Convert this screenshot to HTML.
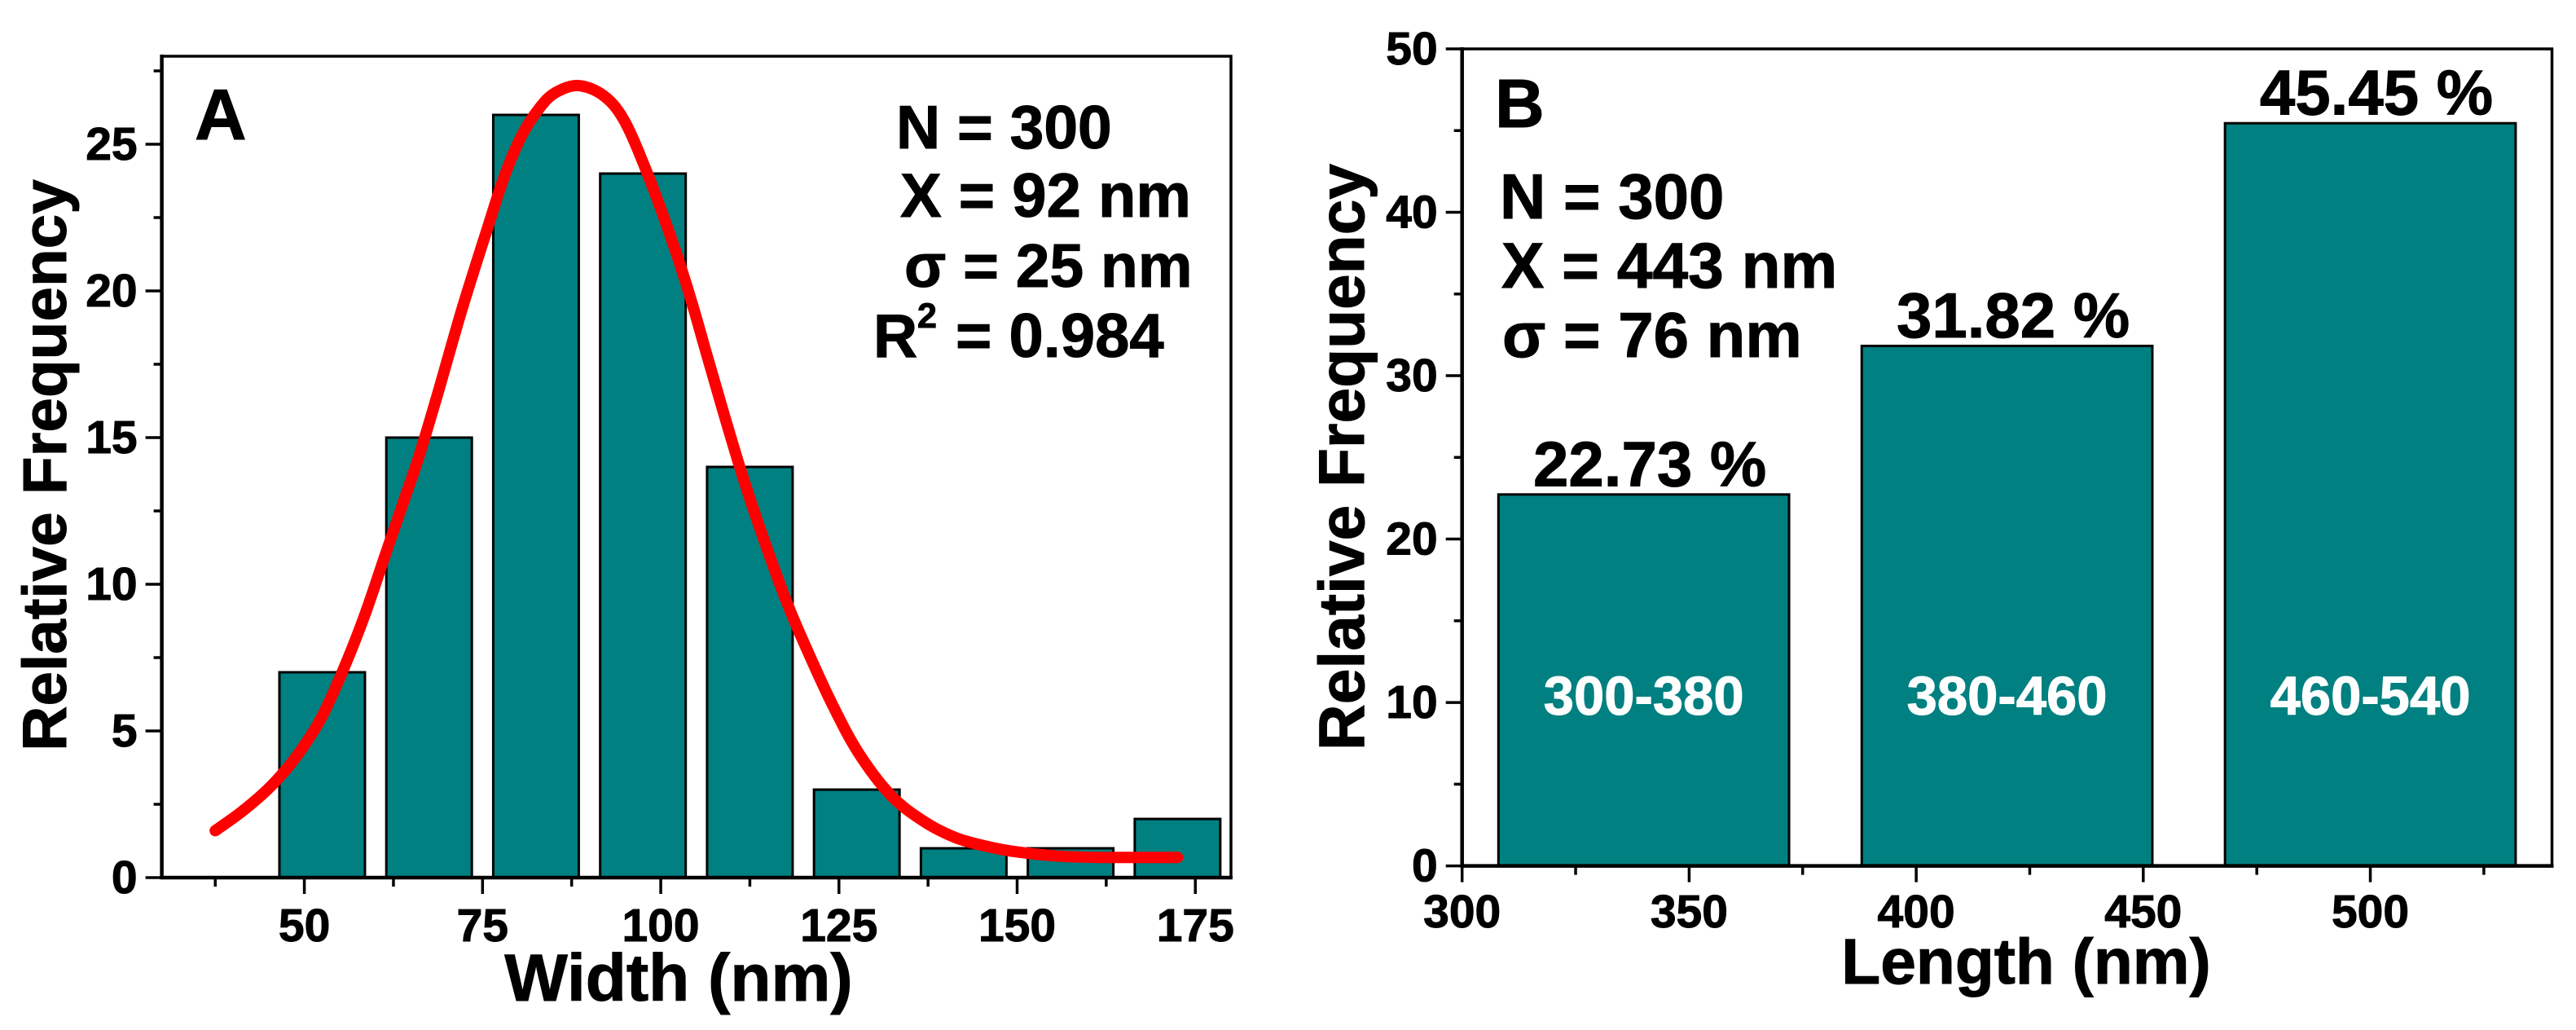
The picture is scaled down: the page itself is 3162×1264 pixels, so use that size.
<!DOCTYPE html>
<html lang="en">
<head>
<meta charset="utf-8">
<title>Relative frequency histograms of width and length</title>
<style>
html,body{margin:0;padding:0;background:#fff;}
body{width:3162px;height:1264px;overflow:hidden;}
svg{display:block;}
text{font-family:"Liberation Sans",Arial,sans-serif;font-weight:bold;fill:#000;stroke:#000;stroke-width:1px;}
</style>
</head>
<body>
<svg id="figure" xmlns="http://www.w3.org/2000/svg" width="3162" height="1264" viewBox="0 0 3162 1264">
  <rect x="0" y="0" width="3162" height="1264" fill="#fff"/>
  <g id="panel-a"></g>
  <g id="panel-b"></g>

  <g>
    <text x="239" y="171" font-size="88">A</text>
    <text x="1100" y="182" font-size="75">N = 300</text>
    <text x="1105" y="266" font-size="76">X = 92 nm</text>
    <text x="1110" y="352" font-size="75">σ = 25 nm</text>
    <text y="438" font-size="75"><tspan x="1072">R</tspan><tspan x="1126" y="402" font-size="43">2</tspan><tspan x="1173" y="438" font-size="76">= 0.984</tspan></text>
    <text font-size="76.5" text-anchor="middle" transform="translate(81 571) rotate(-90)">Relative Frequency</text>
    <text font-size="82" text-anchor="middle" x="833" y="1228">Width (nm)</text>
  </g>

  <g>
    <text x="1835" y="156" font-size="84">B</text>
    <text x="1841" y="268" font-size="78">N = 300</text>
    <text x="1843" y="353" font-size="78.5">X = 443 nm</text>
    <text x="1844" y="438" font-size="78">σ = 76 nm</text>
    <text font-size="78.5" text-anchor="middle" transform="translate(1674 561) rotate(-90)">Relative Frequency</text>
    <text font-size="78.5" text-anchor="middle" x="2487" y="1207">Length (nm)</text>
  </g>
</svg>

<script>
// Panel A data
const widthCenters = [52.5, 67.5, 82.5, 97.5, 112.5, 127.5, 142.5, 157.5, 172.5];
const widthCounts = [7, 15, 26, 24, 14, 3, 1, 1, 2];
const widthBarSpan = 12;
const widthXTicks = [50, 75, 100, 125, 150, 175];
const widthXMinorTicks = [37.5, 62.5, 87.5, 112.5, 137.5, 162.5];
const widthYTicks = [0, 5, 10, 15, 20, 25];
const widthYMinorTicks = [2.5, 7.5, 12.5, 17.5, 22.5, 27.5];
const fitX = [37.5, 40.9, 44.3, 46.6, 49.3, 52.3, 55.4, 58.4, 61.1, 63.7, 66, 68.6, 72.1, 75.7, 78.2, 80.7, 83.2, 85.3, 88.4, 91.9, 94.8, 98, 101.5, 104.1, 106.4, 108.7, 111.4, 114, 117.5, 120.5, 124, 127.7, 132.3, 136.9, 141.5, 146.4, 150.2, 155.9, 161.6, 172.5];
const fitY = [1.6, 2.19, 2.88, 3.45, 4.27, 5.41, 7.05, 8.9, 10.82, 12.67, 14.3, 16.4, 19.36, 22.14, 24, 25.39, 26.3, 26.77, 27, 26.67, 25.84, 24.08, 21.77, 19.82, 17.88, 15.94, 13.75, 11.85, 9.5, 7.78, 5.94, 4.27, 2.8, 1.92, 1.35, 1.03, 0.87, 0.73, 0.69, 0.69];

// Panel B data
const lengthCenters = [340, 420, 500];
const lengthPercents = [22.73, 31.82, 45.45];
const lengthBarSpan = 64;
const lengthPercentLabels = ['22.73 %', '31.82 %', '45.45 %'];
const lengthRangeLabels = ['300-380', '380-460', '460-540'];
const lengthXTicks = [300, 350, 400, 450, 500];
const lengthXMinorTicks = [325, 375, 425, 475, 525];
const lengthYTicks = [0, 10, 20, 30, 40, 50];
const lengthYMinorTicks = [5, 15, 25, 35, 45];

const SVG_NS = 'http://www.w3.org/2000/svg';
const TEAL = '#008080';

function linearScale(d0, d1, r0, r1) {
  return function (v) { return r0 + (v - d0) * (r1 - r0) / (d1 - d0); };
}
function makeShape(tag, parent) {
  const el = document.createElementNS(SVG_NS, tag);
  parent.appendChild(el);
  return el;
}
function setLine(el, x1, y1, x2, y2, w) {
  el.setAttribute('x1', x1);
  el.setAttribute('y1', y1);
  el.setAttribute('x2', x2);
  el.setAttribute('y2', y2);
  el.setAttribute('stroke', '#000');
  el.setAttribute('stroke-width', w);
}
function setLabel(el, x, y, size, anchor, str) {
  el.setAttribute('x', x);
  el.setAttribute('y', y);
  el.setAttribute('font-size', size);
  el.setAttribute('text-anchor', anchor);
  el.textContent = str;
}
function setBar(el, x0, x1, yTop, yBase) {
  el.setAttribute('x', x0);
  el.setAttribute('y', yTop);
  el.setAttribute('width', x1 - x0);
  el.setAttribute('height', yBase - yTop);
  el.setAttribute('fill', TEAL);
  el.setAttribute('stroke', '#000');
  el.setAttribute('stroke-width', 3);
}
function drawFrame(g, L, R, T, B) {
  const frame = makeShape('rect', g);
  
  
  frame.setAttribute('x', L);
  frame.setAttribute('y', T);
  frame.setAttribute('width', R - L);
  frame.setAttribute('height', B - T);
  frame.setAttribute('fill', 'none');
  frame.setAttribute('stroke', '#000');
  frame.setAttribute('stroke-width', 3.5);
}
function drawAxes(g, cfg) {
  const base = makeShape('line', g);
  
  
  setLine(base, cfg.L - 2, cfg.B, cfg.R + 2, cfg.B, 4.5);

  const spine = makeShape('line', g);
  
  
  setLine(spine, cfg.L, cfg.T - 2, cfg.L, cfg.B + 2, 4.5);

  cfg.xTicks.forEach(function (v) {
    const t = makeShape('line', g);
    
    
    setLine(t, cfg.x(v), cfg.B, cfg.x(v), cfg.B + 20, 3.5);
    const lab = makeShape('text', g);
    
    
    setLabel(lab, cfg.x(v), cfg.xLabelY, 57, 'middle', String(v));
  });
  cfg.xMinor.forEach(function (v) {
    const t = makeShape('line', g);
    
    
    setLine(t, cfg.x(v), cfg.B, cfg.x(v), cfg.B + 11, 3.5);
  });
  cfg.yTicks.forEach(function (v) {
    const t = makeShape('line', g);
    
    
    setLine(t, cfg.L - 20, cfg.y(v), cfg.L, cfg.y(v), 3.5);
    const lab = makeShape('text', g);
    
    
    setLabel(lab, cfg.L - 30, cfg.y(v) + 19, 57, 'end', String(v));
  });
  cfg.yMinor.forEach(function (v) {
    const t = makeShape('line', g);
    
    
    setLine(t, cfg.L - 10, cfg.y(v), cfg.L, cfg.y(v), 3.5);
  });
}
function smoothPath(xs, ys) {
  let d = 'M' + xs[0].toFixed(1) + ' ' + ys[0].toFixed(1);
  for (let i = 0; i < xs.length - 1; i++) {
    const a = Math.max(i - 1, 0), b = i + 1, c = Math.min(i + 2, xs.length - 1);
    const c1x = xs[i] + (xs[b] - xs[a]) / 6, c1y = ys[i] + (ys[b] - ys[a]) / 6;
    const c2x = xs[b] - (xs[c] - xs[i]) / 6, c2y = ys[b] - (ys[c] - ys[i]) / 6;
    d += ' C' + c1x.toFixed(1) + ' ' + c1y.toFixed(1) + ' ' + c2x.toFixed(1) + ' ' + c2y.toFixed(1) + ' ' + xs[b].toFixed(1) + ' ' + ys[b].toFixed(1);
  }
  return d;
}

// ---- Panel A ----
(function () {
  const g = document.getElementById('panel-a');
  const L = 198.6, R = 1511, T = 69, B = 1077;
  const x = linearScale(30, 180, L, R);
  const y = linearScale(0, 28, B, T);

  drawFrame(g, L, R, T, B);

  widthCenters.forEach(function (c, i) {
    const bar = makeShape('rect', g);
    
    
    setBar(bar, x(c - widthBarSpan / 2), x(c + widthBarSpan / 2), y(widthCounts[i]), B);
  });

  drawAxes(g, {
    L: L, R: R, T: T, B: B, x: x, y: y,
    xTicks: widthXTicks, xMinor: widthXMinorTicks,
    yTicks: widthYTicks, yMinor: widthYMinorTicks,
    xLabelY: 1155
  });

  const curve = makeShape('path', g);
  
  
  curve.setAttribute('d', smoothPath(fitX.map(x), fitY.map(y)));
  curve.setAttribute('fill', 'none');
  curve.setAttribute('stroke', '#ff0000');
  curve.setAttribute('stroke-width', 14);
  curve.setAttribute('stroke-linecap', 'round');
  curve.setAttribute('stroke-linejoin', 'round');
})();

// ---- Panel B ----
(function () {
  const g = document.getElementById('panel-b');
  const L = 1794.7, R = 3132.5, T = 60, B = 1062.6;
  const x = linearScale(300, 540, L, R);
  const y = linearScale(0, 50, B, T);

  drawFrame(g, L, R, T, B);

  lengthCenters.forEach(function (c, i) {
    const bar = makeShape('rect', g);
    
    
    setBar(bar, x(c - lengthBarSpan / 2), x(c + lengthBarSpan / 2), y(lengthPercents[i]), B);

    const pct = makeShape('text', g);
    
    
    setLabel(pct, x(c) + 7.5, y(lengthPercents[i]) - 10.5, 78, 'middle', lengthPercentLabels[i]);

    const range = makeShape('text', g);
    
    
    setLabel(range, x(c), 877, 67, 'middle', lengthRangeLabels[i]);
    range.setAttribute('style', 'fill:#fff;stroke:#fff');
  });

  drawAxes(g, {
    L: L, R: R, T: T, B: B, x: x, y: y,
    xTicks: lengthXTicks, xMinor: lengthXMinorTicks,
    yTicks: lengthYTicks, yMinor: lengthYMinorTicks,
    xLabelY: 1138
  });
})();
</script>
</body>
</html>
